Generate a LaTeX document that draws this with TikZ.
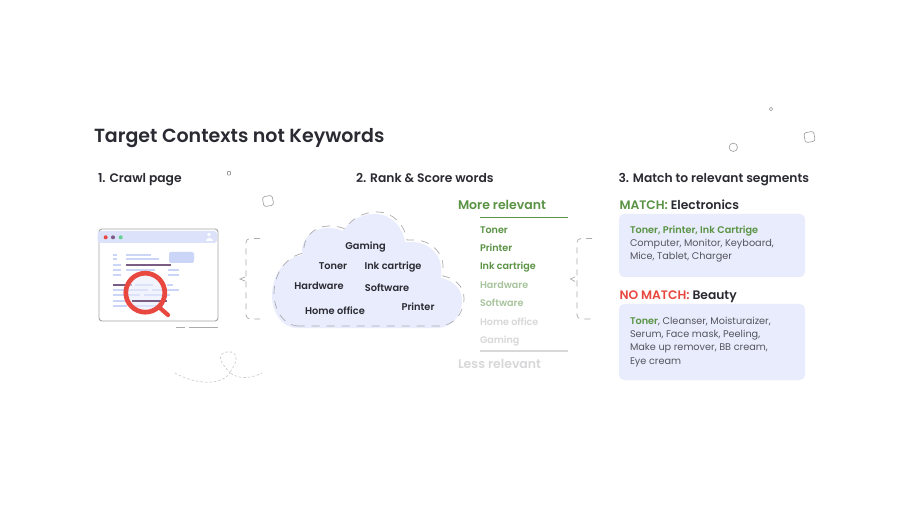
\documentclass[tikz,border=0pt]{standalone}
\usepackage{fontspec}
\setmainfont{Poppins}[BoldFont={Poppins SemiBold}]
\usetikzlibrary{calc}
\definecolor{ink}{HTML}{2A2A32}
\definecolor{body}{HTML}{55555F}
\definecolor{grn}{HTML}{5A9344}
\definecolor{grnl}{HTML}{A8C49D}
\definecolor{gryl}{HTML}{D8D8DA}
\definecolor{redd}{HTML}{E8483F}
\definecolor{pale}{HTML}{E8ECFC}
\definecolor{band}{HTML}{DCE2FA}
\definecolor{btn}{HTML}{CBD5F7}
\definecolor{plum}{HTML}{7A5C84}
\definecolor{dashc}{HTML}{ABABB0}
\tikzset{
  lab/.style={anchor=base west,inner sep=0pt,outer sep=0pt},
  ttl/.style={lab,text=ink,font=\fontsize{19}{20}\bfseries},
  hd/.style={lab,text=ink,font=\fontsize{12.3}{14}\bfseries},
  cw/.style={anchor=base,inner sep=0pt,text=ink,font=\fontsize{9.8}{12}\bfseries},
  rk/.style={lab,font=\fontsize{9.6}{12}\bfseries},
  rel/.style={lab,font=\fontsize{12.5}{14}\bfseries},
  boxt/.style={lab,text=body,font=\fontsize{9.7}{12.5}\selectfont,align=left},
  seg/.style={fill=pale,rounded corners=5pt},
  lnb/.style={btn,line width=1.7pt},
  lnp/.style={plum,line width=1.7pt},
  deco/.style={draw=black!40,line width=.6pt},
  brk/.style={draw=dashc,line width=.7pt,dash pattern=on 6pt off 5pt,rounded corners=4pt},
  tick/.style={draw=dashc,line width=.7pt}
}
\newcommand{\cloudpath}{(297,328) .. controls (281,328) and (272,311) .. (272,296)
  .. controls (272,274) and (285,258) .. (302,255)
  .. controls (300,240) and (312,228) .. (327,228)
  .. controls (333,228) and (339,229) .. (343,231)
  .. controls (350,220) and (362,214) .. (375,214)
  .. controls (392,214) and (403,228) .. (405,242)
  .. controls (411,242) and (416,242) .. (420,243)
  .. controls (432,246) and (441,257) .. (441,268)
  .. controls (441,272) and (441,275) .. (441,278)
  .. controls (452,280) and (462,288) .. (462,300)
  .. controls (462,316) and (451,328) .. (437,328) -- cycle}
\begin{document}
\begin{tikzpicture}[x=1pt,y=-1pt]
\useasboundingbox (0,0) rectangle (920,518);
\fill[white] (0,0) rectangle (920,518);
% titles
\node[ttl] (title) at (94,142.5) {Target Contexts not Keywords};
\node[hd] (h1) at (98,183) {1. Crawl page};
\node[hd] (h2) at (356,183) {2. Rank \& Score words};
\node[hd] (h3) at (618.5,183) {3. Match to relevant segments};
% decorations
\draw[deco,rounded corners=.5pt] (227.5,171.5) rectangle (230.5,175);
\draw[deco,rounded corners=2.5pt,rotate around={10:(268,201)}] (263,196) rectangle (273,206);
\draw[deco] (771,109) circle (1.8);
\draw[deco] (733.3,147.3) circle (4.2);
\draw[deco,rounded corners=2.5pt,rotate around={10:(809.5,137)}] (804.5,132) rectangle (814.5,142);
% squiggle
\draw[black!22,line width=.6pt,dash pattern=on 2.5pt off 2pt]
  (175,373) .. controls (188,381) and (218,389) .. (230,373)
  .. controls (224,366) and (217,358) .. (222,354)
  .. controls (227,350) and (237,351) .. (236,359)
  .. controls (236,365) and (231,369) .. (230,373)
  .. controls (240,380) and (252,378) .. (262,373);
% browser
\draw[draw=black!35,fill=white,line width=.9pt,rounded corners=3pt] (99,229) rectangle (218,321);
\fill[band,rounded corners=3pt] (97.5,231) rectangle (217,243);
\fill[redd] (105.7,237.3) circle (2);
\fill[plum] (113,237.3) circle (2);
\fill[teal!60!green!60] (120.7,237.3) circle (2);
\fill[white] (209,234.5) circle (1.9);
\fill[white] (205.5,241) .. controls (205.5,237.5) and (212.5,237.5) .. (212.5,241) -- cycle;
\fill[btn,rounded corners=2pt] (169,252) rectangle (194,263);
\foreach \a/\b/\c in {113/117/254.7,126/151/254.7,113/117/259.3,126/159/259.3,113/121/264.7,113/121/270,126/155/270,168/179/270,113/121/275,168/179/275,135/153/285.3,167/173/285.3,113/148/290.3,152/179/290.3,113/140/295.3,144/170/295.3,113/130/300.7,113/127/305.7,130/163/305.7}
  \draw[lnb] (\a,\c) -- (\b,\c);
\draw[lnp] (126,264.7) -- (171,264.7);
\draw[lnp] (113,285.3) -- (132,285.3);
% magnifier
\fill[pale,opacity=.6] (145.3,292.7) circle (19.5);
\draw[lnp] (132,300.7) -- (167,300.7);
\draw[redd,line width=4.7pt] (145.3,292.7) circle (19.5);
\draw[redd,line width=4.2pt,line cap=round] (160,308) -- (168,315);
% under window ticks
\draw[tick,line width=.8pt] (176,327.3) -- (185,327.3) (189,327.3) -- (218,327.3);
% left bracket
\draw[brk] (260,238.5) -- (246,238.5) -- (246,319) -- (260,319);
\draw[tick] (245,277) -- (240,279) -- (245,281);
% cloud
\fill[pale] \cloudpath;
\begin{scope}[transform canvas={xshift=2pt,yshift=2pt}]
\draw[dashc,line width=.7pt,dash pattern=on 8pt off 7pt] \cloudpath;
\end{scope}
\node[cw] (c1) at (365.5,249.5) {Gaming};
\node[cw] (c2) at (333,270) {Toner};
\node[cw] (c3) at (393,270) {Ink cartrige};
\node[cw] (c4) at (319,290) {Hardware};
\node[cw] (c5) at (387,292) {Software};
\node[cw] (c6) at (335,314) {Home office};
\node[cw] (c7) at (418,310.5) {Printer};
% ranking
\node[rel,text=grn] (more) at (458,210) {More relevant};
\draw[grn,line width=1.8pt] (480,217.5) -- (568,217.5);
\node[rk,text=grn] (r1) at (480,233.5) {Toner};
\node[rk,text=grn] (r2) at (480,251.5) {Printer};
\node[rk,text=grn] (r3) at (480,270) {Ink cartrige};
\node[rk,text=grnl] (r4) at (480,288.5) {Hardware};
\node[rk,text=grnl] (r5) at (480,306.5) {Software};
\node[rk,text=gryl] (r6) at (480,325) {Home office};
\node[rk,text=gryl] (r7) at (480,343.5) {Gaming};
\draw[gryl,line width=1.8pt] (480,351) -- (568,351);
\node[rel,text=gryl] (less) at (458,368) {Less relevant};
% right bracket
\draw[brk] (592,238.5) -- (577,238.5) -- (577,319) -- (592,319);
\draw[tick] (575,277) -- (570.5,279) -- (575,281.5);
% segment boxes
\fill[seg] (619,214) rectangle (805,277);
\fill[seg] (619,304) rectangle (805,380);
\node[hd] (m1) at (619.5,209.5) {\textcolor{grn}{MATCH:} Electronics};
\node[boxt] (t1) at (630,233.5) {\textcolor{grn}{\bfseries Toner, Printer, Ink Cartrige}};
\node[boxt] (t2) at (630,246.5) {Computer, Monitor, Keyboard,};
\node[boxt] (t3) at (630,259.5) {Mice, Tablet, Charger};
\node[hd] (m2) at (619.5,299.5) {\textcolor{redd}{NO MATCH:} Beauty};
\node[boxt] (t4) at (630,324) {\textcolor{grn}{\bfseries Toner}, Cleanser, Moisturaizer,};
\node[boxt] (t5) at (630,337) {Serum, Face mask, Peeling,};
\node[boxt] (t6) at (630,350) {Make up remover, BB cream,};
\node[boxt] (t7) at (630,364) {Eye cream};
\end{tikzpicture}
\end{document}
